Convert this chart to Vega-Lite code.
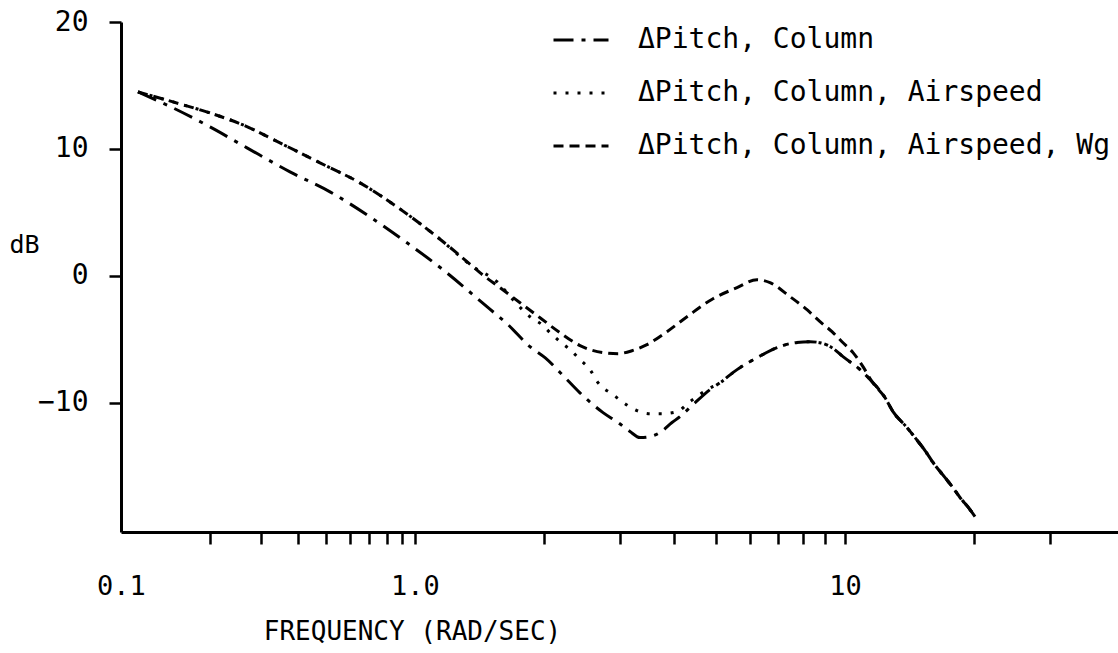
{
  "$schema": "https://vega.github.io/schema/vega-lite/v6.json",
  "autosize": {"type": "none"},
  "padding": {"left": 121, "top": 22, "right": 0, "bottom": 121},
  "width": 997,
  "height": 510,
  "background": "white",
  "config": {
    "view": {"stroke": null},
    "font": "DejaVu Sans Mono"
  },
  "datasets": {
    "curves": [
      {"series": "ΔPitch, Column", "freq": 0.1142, "db": 14.49},
      {"series": "ΔPitch, Column", "freq": 0.1503, "db": 13.23},
      {"series": "ΔPitch, Column", "freq": 0.2008, "db": 11.73},
      {"series": "ΔPitch, Column", "freq": 0.2683, "db": 10.08},
      {"series": "ΔPitch, Column", "freq": 0.3757, "db": 8.19},
      {"series": "ΔPitch, Column", "freq": 0.514, "db": 6.61},
      {"series": "ΔPitch, Column", "freq": 0.6867, "db": 4.8},
      {"series": "ΔPitch, Column", "freq": 0.9393, "db": 2.6},
      {"series": "ΔPitch, Column", "freq": 1.162, "db": 0.47},
      {"series": "ΔPitch, Column", "freq": 1.47, "db": -2.44},
      {"series": "ΔPitch, Column", "freq": 1.646, "db": -3.86},
      {"series": "ΔPitch, Column", "freq": 1.851, "db": -5.59},
      {"series": "ΔPitch, Column", "freq": 2.006, "db": -6.46},
      {"series": "ΔPitch, Column", "freq": 2.257, "db": -8.19},
      {"series": "ΔPitch, Column", "freq": 2.485, "db": -9.61},
      {"series": "ΔPitch, Column", "freq": 2.737, "db": -10.79},
      {"series": "ΔPitch, Column", "freq": 2.966, "db": -11.57},
      {"series": "ΔPitch, Column", "freq": 3.162, "db": -12.28},
      {"series": "ΔPitch, Column", "freq": 3.337, "db": -12.76},
      {"series": "ΔPitch, Column", "freq": 3.52, "db": -12.68},
      {"series": "ΔPitch, Column", "freq": 3.713, "db": -12.36},
      {"series": "ΔPitch, Column", "freq": 3.96, "db": -11.57},
      {"series": "ΔPitch, Column", "freq": 4.134, "db": -11.1},
      {"series": "ΔPitch, Column", "freq": 4.432, "db": -10.16},
      {"series": "ΔPitch, Column", "freq": 4.853, "db": -8.98},
      {"series": "ΔPitch, Column", "freq": 5.121, "db": -8.43},
      {"series": "ΔPitch, Column", "freq": 5.61, "db": -7.4},
      {"series": "ΔPitch, Column", "freq": 6.243, "db": -6.46},
      {"series": "ΔPitch, Column", "freq": 6.949, "db": -5.67},
      {"series": "ΔPitch, Column", "freq": 7.45, "db": -5.35},
      {"series": "ΔPitch, Column", "freq": 8.291, "db": -5.2},
      {"series": "ΔPitch, Column", "freq": 8.748, "db": -5.28},
      {"series": "ΔPitch, Column", "freq": 9.328, "db": -5.67},
      {"series": "ΔPitch, Column", "freq": 9.893, "db": -6.38},
      {"series": "ΔPitch, Column", "freq": 10.84, "db": -7.4},
      {"series": "ΔPitch, Column", "freq": 11.56, "db": -8.35},
      {"series": "ΔPitch, Column", "freq": 12.39, "db": -9.61},
      {"series": "ΔPitch, Column", "freq": 12.93, "db": -10.71},
      {"series": "ΔPitch, Column", "freq": 13.94, "db": -11.97},
      {"series": "ΔPitch, Column", "freq": 14.55, "db": -12.76},
      {"series": "ΔPitch, Column", "freq": 15.35, "db": -13.78},
      {"series": "ΔPitch, Column", "freq": 16.02, "db": -14.72},
      {"series": "ΔPitch, Column", "freq": 17.09, "db": -15.91},
      {"series": "ΔPitch, Column", "freq": 17.74, "db": -16.61},
      {"series": "ΔPitch, Column", "freq": 18.51, "db": -17.48},
      {"series": "ΔPitch, Column", "freq": 19.53, "db": -18.43},
      {"series": "ΔPitch, Column", "freq": 20.06, "db": -18.98},

      {"series": "ΔPitch, Column, Airspeed", "freq": 0.1142, "db": 14.49},
      {"series": "ΔPitch, Column, Airspeed", "freq": 0.1503, "db": 13.7},
      {"series": "ΔPitch, Column, Airspeed", "freq": 0.2008, "db": 12.83},
      {"series": "ΔPitch, Column, Airspeed", "freq": 0.26, "db": 11.89},
      {"series": "ΔPitch, Column, Airspeed", "freq": 0.3474, "db": 10.47},
      {"series": "ΔPitch, Column, Airspeed", "freq": 0.4752, "db": 8.9},
      {"series": "ΔPitch, Column, Airspeed", "freq": 0.65, "db": 7.32},
      {"series": "ΔPitch, Column, Airspeed", "freq": 0.8685, "db": 5.43},
      {"series": "ΔPitch, Column, Airspeed", "freq": 1.125, "db": 3.07},
      {"series": "ΔPitch, Column, Airspeed", "freq": 1.364, "db": 0.71},
      {"series": "ΔPitch, Column, Airspeed", "freq": 1.551, "db": -0.47},
      {"series": "ΔPitch, Column, Airspeed", "freq": 1.69, "db": -1.89},
      {"series": "ΔPitch, Column, Airspeed", "freq": 1.851, "db": -3.23},
      {"series": "ΔPitch, Column, Airspeed", "freq": 1.974, "db": -3.86},
      {"series": "ΔPitch, Column, Airspeed", "freq": 2.061, "db": -4.49},
      {"series": "ΔPitch, Column, Airspeed", "freq": 2.174, "db": -5.2},
      {"series": "ΔPitch, Column, Airspeed", "freq": 2.294, "db": -5.83},
      {"series": "ΔPitch, Column, Airspeed", "freq": 2.42, "db": -6.61},
      {"series": "ΔPitch, Column, Airspeed", "freq": 2.553, "db": -7.4},
      {"series": "ΔPitch, Column, Airspeed", "freq": 2.664, "db": -8.43},
      {"series": "ΔPitch, Column, Airspeed", "freq": 2.887, "db": -9.37},
      {"series": "ΔPitch, Column, Airspeed", "freq": 3.03, "db": -9.92},
      {"series": "ΔPitch, Column, Airspeed", "freq": 3.283, "db": -10.63},
      {"series": "ΔPitch, Column, Airspeed", "freq": 3.52, "db": -10.87},
      {"series": "ΔPitch, Column, Airspeed", "freq": 3.753, "db": -10.87},
      {"series": "ΔPitch, Column, Airspeed", "freq": 4.068, "db": -10.71},
      {"series": "ΔPitch, Column, Airspeed", "freq": 4.361, "db": -9.92},
      {"series": "ΔPitch, Column, Airspeed", "freq": 4.776, "db": -8.98},
      {"series": "ΔPitch, Column, Airspeed", "freq": 5.121, "db": -8.43},
      {"series": "ΔPitch, Column, Airspeed", "freq": 5.61, "db": -7.4},
      {"series": "ΔPitch, Column, Airspeed", "freq": 6.243, "db": -6.46},
      {"series": "ΔPitch, Column, Airspeed", "freq": 6.949, "db": -5.67},
      {"series": "ΔPitch, Column, Airspeed", "freq": 7.45, "db": -5.35},
      {"series": "ΔPitch, Column, Airspeed", "freq": 8.291, "db": -5.2},
      {"series": "ΔPitch, Column, Airspeed", "freq": 8.748, "db": -5.28},
      {"series": "ΔPitch, Column, Airspeed", "freq": 9.328, "db": -5.67},
      {"series": "ΔPitch, Column, Airspeed", "freq": 9.893, "db": -6.38},
      {"series": "ΔPitch, Column, Airspeed", "freq": 10.84, "db": -7.4},
      {"series": "ΔPitch, Column, Airspeed", "freq": 11.56, "db": -8.35},
      {"series": "ΔPitch, Column, Airspeed", "freq": 12.39, "db": -9.61},
      {"series": "ΔPitch, Column, Airspeed", "freq": 12.93, "db": -10.71},
      {"series": "ΔPitch, Column, Airspeed", "freq": 13.94, "db": -11.97},
      {"series": "ΔPitch, Column, Airspeed", "freq": 14.55, "db": -12.76},
      {"series": "ΔPitch, Column, Airspeed", "freq": 15.35, "db": -13.78},
      {"series": "ΔPitch, Column, Airspeed", "freq": 16.02, "db": -14.72},
      {"series": "ΔPitch, Column, Airspeed", "freq": 17.09, "db": -15.91},
      {"series": "ΔPitch, Column, Airspeed", "freq": 17.74, "db": -16.61},
      {"series": "ΔPitch, Column, Airspeed", "freq": 18.51, "db": -17.48},
      {"series": "ΔPitch, Column, Airspeed", "freq": 19.53, "db": -18.43},
      {"series": "ΔPitch, Column, Airspeed", "freq": 20.06, "db": -18.98},

      {"series": "ΔPitch, Column, Airspeed, Wg", "freq": 0.1142, "db": 14.49},
      {"series": "ΔPitch, Column, Airspeed, Wg", "freq": 0.1503, "db": 13.7},
      {"series": "ΔPitch, Column, Airspeed, Wg", "freq": 0.2008, "db": 12.83},
      {"series": "ΔPitch, Column, Airspeed, Wg", "freq": 0.26, "db": 11.89},
      {"series": "ΔPitch, Column, Airspeed, Wg", "freq": 0.3474, "db": 10.47},
      {"series": "ΔPitch, Column, Airspeed, Wg", "freq": 0.4752, "db": 8.9},
      {"series": "ΔPitch, Column, Airspeed, Wg", "freq": 0.65, "db": 7.32},
      {"series": "ΔPitch, Column, Airspeed, Wg", "freq": 0.8685, "db": 5.43},
      {"series": "ΔPitch, Column, Airspeed, Wg", "freq": 1.125, "db": 3.07},
      {"series": "ΔPitch, Column, Airspeed, Wg", "freq": 1.364, "db": 0.71},
      {"series": "ΔPitch, Column, Airspeed, Wg", "freq": 1.416, "db": 0.24},
      {"series": "ΔPitch, Column, Airspeed, Wg", "freq": 1.577, "db": -0.94},
      {"series": "ΔPitch, Column, Airspeed, Wg", "freq": 1.755, "db": -2.13},
      {"series": "ΔPitch, Column, Airspeed, Wg", "freq": 1.953, "db": -3.31},
      {"series": "ΔPitch, Column, Airspeed, Wg", "freq": 2.174, "db": -4.49},
      {"series": "ΔPitch, Column, Airspeed, Wg", "freq": 2.42, "db": -5.51},
      {"series": "ΔPitch, Column, Airspeed, Wg", "freq": 2.737, "db": -6.06},
      {"series": "ΔPitch, Column, Airspeed, Wg", "freq": 2.966, "db": -6.14},
      {"series": "ΔPitch, Column, Airspeed, Wg", "freq": 3.196, "db": -5.91},
      {"series": "ΔPitch, Column, Airspeed, Wg", "freq": 3.463, "db": -5.43},
      {"series": "ΔPitch, Column, Airspeed, Wg", "freq": 3.855, "db": -4.41},
      {"series": "ΔPitch, Column, Airspeed, Wg", "freq": 4.292, "db": -3.23},
      {"series": "ΔPitch, Column, Airspeed, Wg", "freq": 4.932, "db": -1.81},
      {"series": "ΔPitch, Column, Airspeed, Wg", "freq": 5.61, "db": -0.94},
      {"series": "ΔPitch, Column, Airspeed, Wg", "freq": 6.243, "db": -0.31},
      {"series": "ΔPitch, Column, Airspeed, Wg", "freq": 6.693, "db": -0.55},
      {"series": "ΔPitch, Column, Airspeed, Wg", "freq": 7.45, "db": -1.65},
      {"series": "ΔPitch, Column, Airspeed, Wg", "freq": 8.158, "db": -2.68},
      {"series": "ΔPitch, Column, Airspeed, Wg", "freq": 8.748, "db": -3.62},
      {"series": "ΔPitch, Column, Airspeed, Wg", "freq": 9.328, "db": -4.41},
      {"series": "ΔPitch, Column, Airspeed, Wg", "freq": 9.84, "db": -5.2},
      {"series": "ΔPitch, Column, Airspeed, Wg", "freq": 10.44, "db": -6.06},
      {"series": "ΔPitch, Column, Airspeed, Wg", "freq": 11.01, "db": -7.17},
      {"series": "ΔPitch, Column, Airspeed, Wg", "freq": 11.56, "db": -8.35},
      {"series": "ΔPitch, Column, Airspeed, Wg", "freq": 12.39, "db": -9.61},
      {"series": "ΔPitch, Column, Airspeed, Wg", "freq": 12.93, "db": -10.71},
      {"series": "ΔPitch, Column, Airspeed, Wg", "freq": 13.94, "db": -11.97},
      {"series": "ΔPitch, Column, Airspeed, Wg", "freq": 14.55, "db": -12.76},
      {"series": "ΔPitch, Column, Airspeed, Wg", "freq": 15.35, "db": -13.78},
      {"series": "ΔPitch, Column, Airspeed, Wg", "freq": 16.02, "db": -14.72},
      {"series": "ΔPitch, Column, Airspeed, Wg", "freq": 17.09, "db": -15.91},
      {"series": "ΔPitch, Column, Airspeed, Wg", "freq": 17.74, "db": -16.61},
      {"series": "ΔPitch, Column, Airspeed, Wg", "freq": 18.51, "db": -17.48},
      {"series": "ΔPitch, Column, Airspeed, Wg", "freq": 19.53, "db": -18.43},
      {"series": "ΔPitch, Column, Airspeed, Wg", "freq": 20.06, "db": -18.98}
    ]
  },
  "data": {"name": "curves"},
  "mark": {"type": "line", "color": "black", "strokeWidth": 3, "interpolate": "monotone", "strokeCap": "butt"},
  "encoding": {
    "x": {
      "field": "freq",
      "type": "quantitative",
      "scale": {"type": "log", "domain": [0.1, 1, 43.14], "range": [0, 294, 997], "nice": false},
      "axis": {
        "values": [0.1, 0.2, 0.3, 0.4, 0.5, 0.6, 0.7, 0.8, 0.9, 1, 2, 3, 4, 5, 6, 7, 8, 9, 10, 20, 30],
        "labelExpr": "datum.value == 0.1 ? '0.1' : datum.value == 1 ? '1.0' : datum.value == 10 ? '10' : ''",
        "tickOpacity": {"condition": {"test": "datum.value < 0.15", "value": 0}, "value": 1},
        "grid": false,
        "tickSize": 12,
        "tickWidth": 2.5,
        "tickColor": "black",
        "domainWidth": 3,
        "domainColor": "black",
        "labelFont": "DejaVu Sans Mono",
        "labelFontSize": 27,
        "labelColor": "black",
        "labelPadding": 29,
        "labelFlush": false,
        "labelOverlap": false,
        "title": "FREQUENCY (RAD/SEC)",
        "titleFont": "DejaVu Sans Mono",
        "titleFontSize": 26,
        "titleFontWeight": "normal",
        "titleColor": "black",
        "titleX": 291,
        "titleY": 107,
        "titleAlign": "center",
        "titleBaseline": "alphabetic"
      }
    },
    "y": {
      "field": "db",
      "type": "quantitative",
      "scale": {"domain": [-20.2, 20], "nice": false, "zero": false},
      "axis": {
        "values": [-10, 0, 10, 20],
        "grid": false,
        "tickSize": 12,
        "tickWidth": 2.5,
        "tickColor": "black",
        "domainWidth": 3,
        "domainColor": "black",
        "labelFont": "DejaVu Sans Mono",
        "labelFontSize": 28,
        "labelColor": "black",
        "labelPadding": 21,
        "labelFlush": false,
        "labelOverlap": false,
        "title": "dB",
        "titleFont": "DejaVu Sans Mono",
        "titleFontSize": 25,
        "titleFontWeight": "normal",
        "titleColor": "black",
        "titleAngle": 0,
        "titleX": -97,
        "titleY": 230,
        "titleAlign": "center",
        "titleBaseline": "alphabetic"
      }
    },
    "strokeDash": {
      "field": "series",
      "type": "nominal",
      "scale": {
        "domain": ["ΔPitch, Column", "ΔPitch, Column, Airspeed", "ΔPitch, Column, Airspeed, Wg"],
        "range": [[20, 8, 4, 8], [3, 9], [10, 6]]
      },
      "legend": {
        "title": null,
        "orient": "none",
        "legendX": 431,
        "legendY": -11,
        "padding": 0,
        "symbolType": "stroke",
        "symbolSize": 3025,
        "symbolStrokeWidth": 3,
        "symbolStrokeColor": "black",
        "rowPadding": 10,
        "labelOffset": 28,
        "labelFont": "DejaVu Sans Mono",
        "labelFontSize": 28,
        "labelColor": "black",
        "labelLimit": 700
      }
    }
  }
}
